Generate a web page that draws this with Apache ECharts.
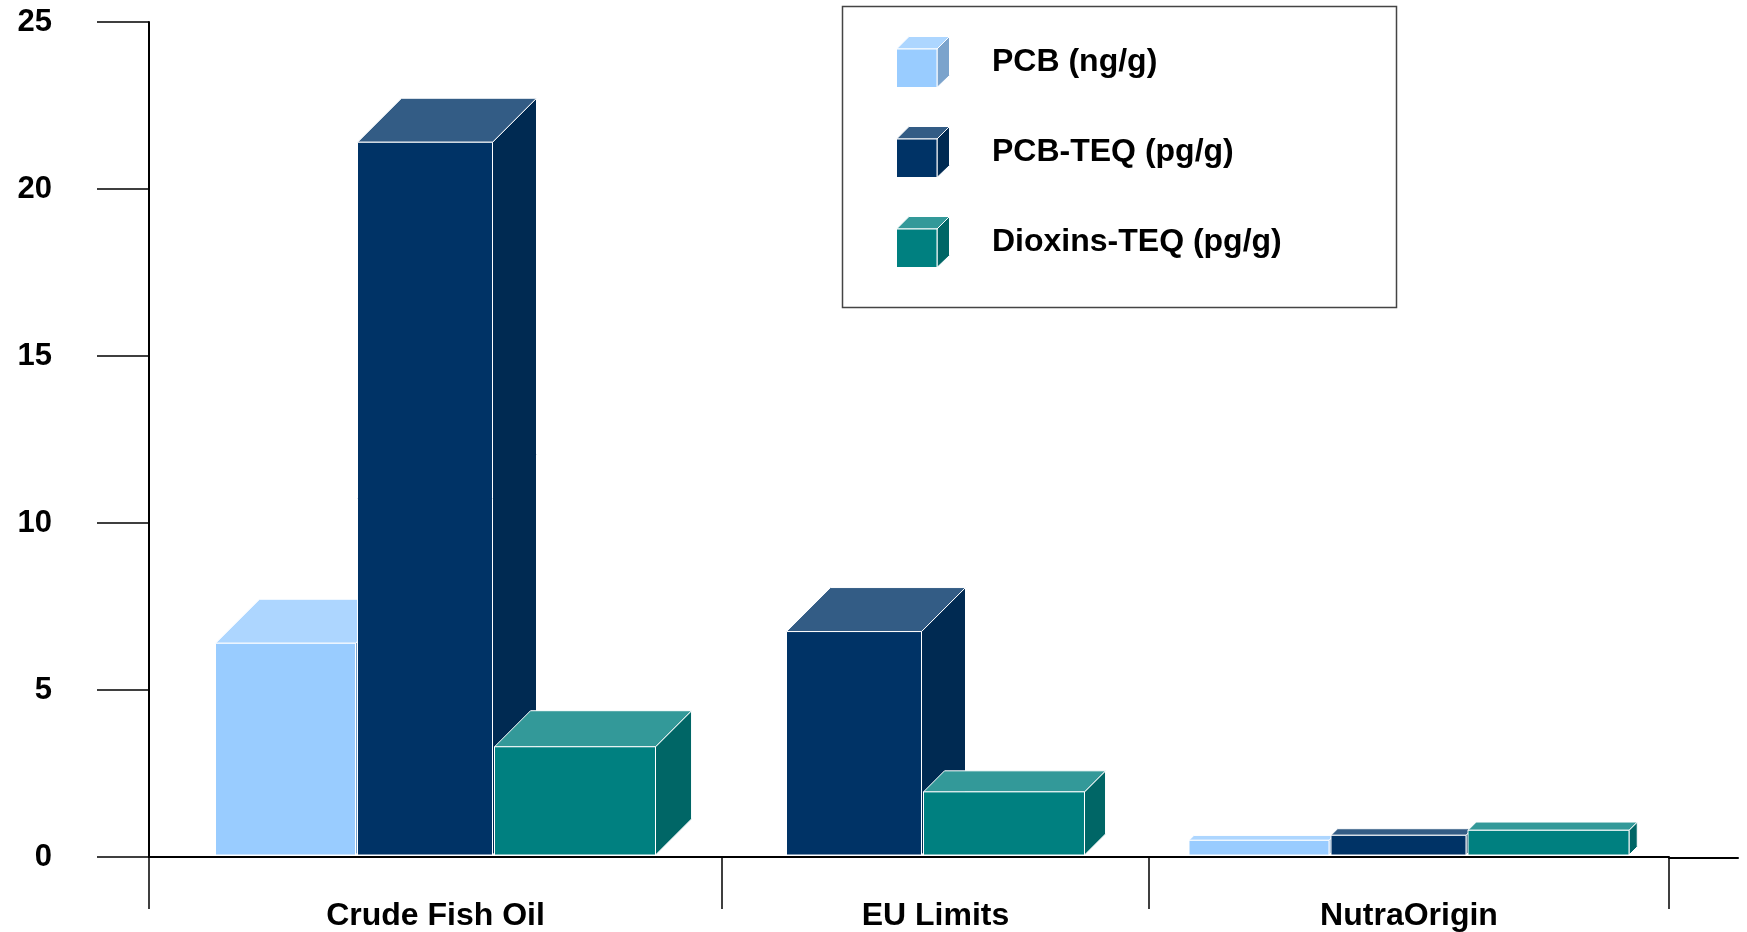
<!DOCTYPE html>
<html>
<head>
<meta charset="utf-8">
<style>
  html, body { margin: 0; padding: 0; background: #fff; }
  #chart { width: 1747px; height: 932px; }
</style>
<script src="https://cdn.jsdelivr.net/npm/echarts@6/dist/echarts.min.js"></script>
</head>
<body>
<div id="chart"></div>
<script>
// ---- data ----
const categories = ['Crude Fish Oil', 'EU Limits', 'NutraOrigin'];
const seriesNames = ['PCB (ng/g)', 'PCB-TEQ (pg/g)', 'Dioxins-TEQ (pg/g)'];
const pcbValues = [6.4, null, 0.5];
const pcbTeqValues = [21.4, 6.75, 0.65];
const dioxinsTeqValues = [3.3, 1.95, 0.8];
const yAxisMin = 0;
const yAxisMax = 25;
const yAxisInterval = 5;

// ---- styles / layout ----
const FONT = "'Liberation Sans', Arial, Helvetica, sans-serif";
const seriesValues = [pcbValues, pcbTeqValues, dioxinsTeqValues];
const seriesStyles = [
  { front: '#99CCFF', top: '#ADD6FF', side: '#7BA3CC', width: 140 },
  { front: '#003366', top: '#335C85', side: '#002A52', width: 135 },
  { front: '#008080', top: '#339999', side: '#006666', width: 161 }
];
const BAR_GAP = 2;
const MAX_DEPTH = 44;
// grid bands (pixel layout of the three category panels + axis tail)
const gridLayout = [
  { left: 149, right: 1025 },
  { left: 722, right: 598 },
  { left: 1149, right: 78 }
];
const tailLayout = { left: 1669, right: 9 };
const GRID_TOP = 22, GRID_BOTTOM = 74;

function cubeIcon(st) {
  const svg = '<svg xmlns="http://www.w3.org/2000/svg" width="54" height="52" viewBox="0 0 54 52">' +
    '<polygon points="0.5,13 13,0.5 53.5,0.5 41,13" fill="' + st.top + '" stroke="#ffffff" stroke-width="1"/>' +
    '<polygon points="41,13 53.5,0.5 53.5,39.5 41,51.5" fill="' + st.side + '" stroke="#ffffff" stroke-width="1"/>' +
    '<rect x="0.5" y="13" width="40.5" height="38.5" fill="' + st.front + '" stroke="#ffffff" stroke-width="1"/>' +
    '</svg>';
  return 'image://data:image/svg+xml;charset=utf-8,' + encodeURIComponent(svg);
}

function makeRenderItem(catIdx, serIdx) {
  return function (params, api) {
    const present = [0, 1, 2].filter(i => seriesValues[i][catIdx] != null);
    let total = BAR_GAP * (present.length - 1);
    present.forEach(i => { total += seriesStyles[i].width; });
    const base = api.coord([0, 0]);
    let x0 = base[0] - total / 2;
    for (const i of present) {
      if (i === serIdx) break;
      x0 += seriesStyles[i].width + BAR_GAP;
    }
    const st = seriesStyles[serIdx];
    const x1 = x0 + st.width;
    const yTop = api.coord([0, api.value(1)])[1];
    const yBot = base[1] - 2;
    const h = yBot - yTop;
    const d = Math.min(MAX_DEPTH, h / 3);
    const stroke = { stroke: '#ffffff', lineWidth: 1 };
    return {
      type: 'group',
      children: [
        {
          type: 'polygon',
          shape: { points: [[x1, yTop], [x1 + d, yTop - d], [x1 + d, yBot - d], [x1, yBot]] },
          style: Object.assign({ fill: st.side }, stroke)
        },
        {
          type: 'polygon',
          shape: { points: [[x0, yTop], [x0 + d, yTop - d], [x1 + d, yTop - d], [x1, yTop]] },
          style: Object.assign({ fill: st.top }, stroke)
        },
        {
          type: 'rect',
          shape: { x: x0, y: yTop, width: st.width, height: h },
          style: Object.assign({ fill: st.front }, stroke)
        }
      ]
    };
  };
}

const grids = gridLayout.map(g => ({ left: g.left, right: g.right, top: GRID_TOP, bottom: GRID_BOTTOM, containLabel: false }));
grids.push({ left: tailLayout.left, right: tailLayout.right, top: GRID_TOP, bottom: GRID_BOTTOM, containLabel: false });

const xAxes = categories.map((cat, c) => ({
  type: 'category',
  gridIndex: c,
  data: [cat],
  boundaryGap: true,
  axisLine: { show: true, lineStyle: { color: '#000', width: 2 } },
  axisTick: { show: true, length: 52, inside: false, lineStyle: { color: '#000', width: 1.5 } },
  axisLabel: { show: true, margin: 43, color: '#000', fontSize: 32, fontWeight: 'bold', fontFamily: FONT },
  splitLine: { show: false }
}));
xAxes.push({
  type: 'category',
  gridIndex: 3,
  data: [''],
  axisLine: { show: true, lineStyle: { color: '#000', width: 2 } },
  axisTick: { show: false },
  axisLabel: { show: false },
  splitLine: { show: false }
});

const yAxes = categories.map((cat, c) => ({
  type: 'value',
  gridIndex: c,
  min: yAxisMin,
  max: yAxisMax,
  interval: yAxisInterval,
  show: c === 0,
  axisLine: { show: true, lineStyle: { color: '#000', width: 2 } },
  axisTick: { show: true, length: 52, inside: false, lineStyle: { color: '#000', width: 1.5 } },
  axisLabel: { show: true, margin: 97, color: '#000', fontSize: 31, fontWeight: 'bold', fontFamily: FONT, padding: [0, 0, 6, 0] },
  splitLine: { show: false }
}));
yAxes.push({ type: 'value', gridIndex: 3, min: yAxisMin, max: yAxisMax, interval: yAxisInterval, show: false });

const series = [];
categories.forEach((cat, c) => {
  seriesNames.forEach((name, s) => {
    const v = seriesValues[s][c];
    series.push({
      type: 'custom',
      name: name,
      xAxisIndex: c,
      yAxisIndex: c,
      itemStyle: { color: seriesStyles[s].front },
      data: v == null ? [] : [[0, v]],
      renderItem: makeRenderItem(c, s),
      clip: false,
      z: 2 + s
    });
  });
});

const chart = echarts.init(document.getElementById('chart'), null, { renderer: 'canvas' });
chart.setOption({
  backgroundColor: '#ffffff',
  animation: false,
  grid: grids,
  xAxis: xAxes,
  yAxis: yAxes,
  legend: {
    orient: 'vertical',
    left: 896,
    top: 36,
    itemWidth: 54,
    itemHeight: 52,
    itemGap: 38,
    selectedMode: false,
    padding: 0,
    data: seriesNames.map((n, i) => ({ name: n, icon: cubeIcon(seriesStyles[i]) })),
    textStyle: { color: '#000', fontSize: 32, fontWeight: 'bold', fontFamily: FONT, padding: [0, 0, 0, 37] }
  },
  graphic: [
    {
      type: 'rect',
      left: 840, top: 4,
      shape: { width: 554, height: 301 },
      style: { fill: 'none', stroke: '#444', lineWidth: 1.5 },
      z: 1
    }
  ],
  series: series
});
</script>
</body>
</html>
